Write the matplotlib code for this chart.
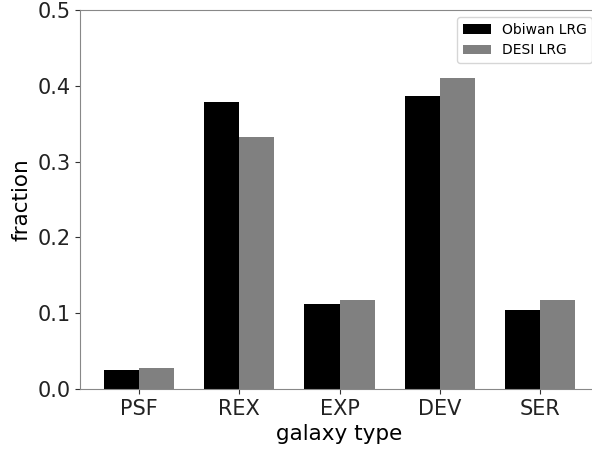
import numpy as np
import matplotlib
matplotlib.use("Agg")
import matplotlib.pyplot as plt

types = ['PSF', 'REX', 'EXP', 'DEV', 'SER']
obiwan_frac = [0.025, 0.378, 0.112, 0.386, 0.104]
desi_frac = [0.028, 0.333, 0.117, 0.410, 0.117]

fig = plt.figure(figsize=(5.92, 4.5), dpi=100)
ax = fig.add_axes([80 / 592, 61 / 450, 519 / 592, 379 / 450])

x = np.arange(len(types))
w = 0.35
ax.bar(x - w / 2, obiwan_frac, w, color='black', label='Obiwan LRG')
ax.bar(x + w / 2, desi_frac, w, color='gray', label='DESI LRG')

ax.set_ylim(0, 0.5)
ax.set_xticks(x)
ax.set_xticklabels(types)
ax.tick_params(labelsize=15, colors='#333333', labelcolor='#222222')
ax.set_xlabel('galaxy type', fontsize=15.5)
ax.set_ylabel('fraction', fontsize=15.5)
for s in ax.spines.values():
    s.set_color('#888888')

ax.legend(loc='upper right', fontsize=10)

fig.savefig('out.png', dpi=100)
